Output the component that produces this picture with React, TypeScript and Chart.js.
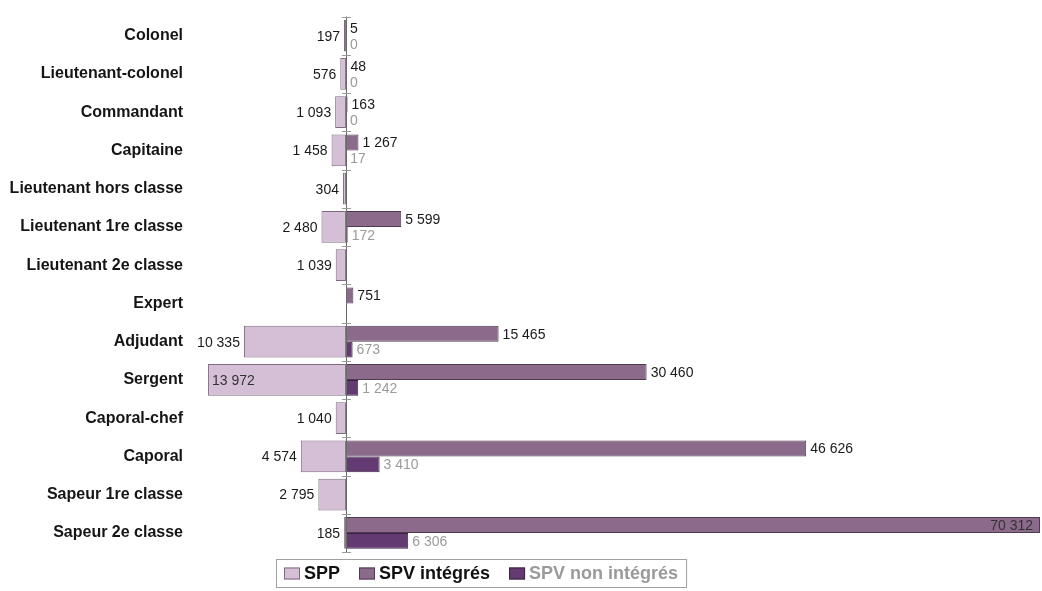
import React, { useEffect, useRef } from "react";
import { Chart, registerables } from "chart.js";

Chart.register(...registerables);

const categories = [
  "Colonel",
  "Lieutenant-colonel",
  "Commandant",
  "Capitaine",
  "Lieutenant hors classe",
  "Lieutenant 1re classe",
  "Lieutenant 2e classe",
  "Expert",
  "Adjudant",
  "Sergent",
  "Caporal-chef",
  "Caporal",
  "Sapeur 1re classe",
  "Sapeur 2e classe",
];

const spp: (number | null)[] = [197, 576, 1093, 1458, 304, 2480, 1039, null, 10335, 13972, 1040, 4574, 2795, 185];
const spvIntegres: (number | null)[] = [5, 48, 163, 1267, null, 5599, null, 751, 15465, 30460, null, 46626, null, 70312];
const spvNonIntegres: (number | null)[] = [0, 0, 0, 17, null, 172, null, null, 673, 1242, null, 3410, null, 6306];

const seriesNames = ["SPP", "SPV intégrés", "SPV non intégrés"];
const seriesFill = ["#d5bfd6", "#8c6a8c", "#643a72"];
const seriesBorder = ["#7d6a80", "#4f3a50", "#3a2342"];
const labelColors = ["#1a1a1a", "#1a1a1a", "#9a9a9a"];
const legendTextColors = ["#111111", "#111111", "#9a9a9a"];

const xMin = -15800;
const xMax = 70312;

const FONT = "'Liberation Sans', Arial, Helvetica, sans-serif";

const fmt = (v: number) => String(v).replace(/\B(?=(\d{3})+(?!\d))/g, " ");

const rawSeries = [spp, spvIntegres, spvNonIntegres];

const overlayPlugin = {
  id: "overlay",
  afterDatasetsDraw(chart: any) {
    const ctx = chart.ctx;
    const area = chart.chartArea;
    const xs = chart.scales.x;
    const x0 = xs.getPixelForValue(0);
    ctx.save();
    // central axis
    ctx.strokeStyle = "#6a6a6a";
    ctx.lineWidth = 1;
    ctx.beginPath();
    ctx.moveTo(Math.round(x0) + 0.5, area.top);
    ctx.lineTo(Math.round(x0) + 0.5, area.bottom);
    ctx.stroke();
    const n = categories.length;
    const step = (area.bottom - area.top) / n;
    ctx.strokeStyle = "#9a9a9a";
    for (let i = 0; i <= n; i++) {
      const yy = Math.round(area.top + i * step) + 0.5;
      ctx.beginPath();
      ctx.moveTo(x0 - 4, yy);
      ctx.lineTo(x0 + 5, yy);
      ctx.stroke();
    }
    // value labels
    ctx.font = `14px ${FONT}`;
    ctx.textBaseline = "middle";
    rawSeries.forEach((arr, di) => {
      const meta = chart.getDatasetMeta(di);
      meta.data.forEach((el: any, j: number) => {
        const raw = arr[j];
        if (raw == null) return;
        const text = fmt(raw);
        const w = ctx.measureText(text).width;
        const p = el.getProps(["x", "y", "base"], true);
        ctx.fillStyle = labelColors[di];
        if (di === 0) {
          const left = Math.min(p.x, p.base);
          if (left - 4 - w < area.left) {
            ctx.textAlign = "left";
            ctx.fillStyle = "#333333";
            ctx.fillText(text, left + 4, p.y + 1);
          } else {
            ctx.textAlign = "right";
            ctx.fillText(text, left - 4, p.y + 1);
          }
        } else {
          const right = Math.max(p.x, p.base);
          if (right + 4 + w > area.right) {
            ctx.textAlign = "right";
            ctx.fillStyle = "#333333";
            ctx.fillText(text, right - 7, p.y + 1);
          } else {
            ctx.textAlign = "left";
            ctx.fillText(text, right + 4, p.y + 1);
          }
        }
      });
    });
    ctx.restore();
  },
  afterDraw(chart: any) {
    const ctx = chart.ctx;
    ctx.save();
    ctx.font = `bold 18px ${FONT}`;
    ctx.textBaseline = "middle";
    const boxW = 16;
    const boxH = 12;
    const gapBoxText = 4;
    const gapItems = 19;
    const padX = 8;
    const widths = seriesNames.map((s) => ctx.measureText(s).width);
    let total = padX * 2;
    widths.forEach((w, i) => {
      total += boxW + gapBoxText + w + (i < widths.length - 1 ? gapItems : 0);
    });
    const cx = 481;
    const left = Math.round(cx - total / 2);
    const top = 559;
    const h = 28;
    ctx.strokeStyle = "#a0a0a0";
    ctx.lineWidth = 1;
    ctx.strokeRect(left + 0.5, top + 0.5, total, h);
    let x = left + padX;
    const cy = top + h / 2 + 0.5;
    seriesNames.forEach((s, i) => {
      ctx.fillStyle = seriesFill[i];
      ctx.fillRect(x, cy - boxH / 2, boxW, boxH);
      ctx.strokeStyle = seriesBorder[i];
      ctx.strokeRect(x + 0.5, cy - boxH / 2 + 0.5, boxW - 1, boxH - 1);
      x += boxW + gapBoxText;
      ctx.fillStyle = legendTextColors[i];
      ctx.textAlign = "left";
      ctx.fillText(s, x, cy + 1);
      x += widths[i] + gapItems;
    });
    ctx.restore();
  },
};

export default function App() {
  const ref = useRef<HTMLCanvasElement | null>(null);

  useEffect(() => {
    document.body.style.margin = "0";
    const canvas = ref.current;
    if (!canvas) return;
    Chart.defaults.font.family = FONT;
    const common = {
      borderWidth: 1,
      borderSkipped: false,
      categoryPercentage: 0.83,
      barPercentage: 1,
    };
    const chart = new Chart(canvas, {
      type: "bar",
      data: {
        labels: categories,
        datasets: [
          {
            label: seriesNames[0],
            data: spp.map((v) => (v == null ? null : -v)),
            backgroundColor: seriesFill[0],
            borderColor: seriesBorder[0],
            grouped: false,
            ...common,
          },
          {
            label: seriesNames[1],
            data: spvIntegres,
            backgroundColor: seriesFill[1],
            borderColor: seriesBorder[1],
            ...common,
          },
          {
            label: seriesNames[2],
            data: spvNonIntegres,
            backgroundColor: seriesFill[2],
            borderColor: seriesBorder[2],
            ...common,
          },
        ],
      },
      options: {
        indexAxis: "y",
        responsive: false,
        animation: false,
        layout: { padding: { top: 13, bottom: 39, left: 0, right: 2 } },
        plugins: {
          legend: { display: false },
          tooltip: { enabled: false },
        },
        scales: {
          x: {
            type: "linear",
            min: xMin,
            max: xMax,
            display: false,
          },
          y: {
            type: "category",
            position: "left",
            offset: true,
            grid: { display: false, drawTicks: false },
            border: { display: false },
            ticks: {
              padding: 7,
              color: "#151515",
              font: { family: FONT, size: 16, weight: "bold" },
            },
            afterFit: (scale: any) => {
              scale.width = 190;
            },
          },
        },
      },
      plugins: [overlayPlugin],
    } as any);
    return () => chart.destroy();
  }, []);

  return (
    <div style={{ width: 1042, height: 591 }}>
      <canvas ref={ref} width={1042} height={591} style={{ display: "block" }} />
    </div>
  );
}
